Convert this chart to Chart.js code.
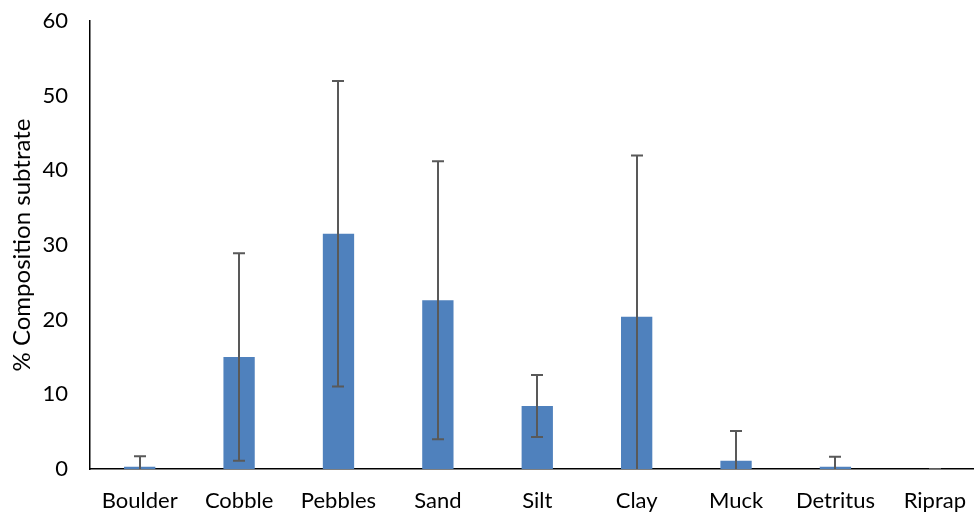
<!DOCTYPE html>
<html>
<head>
<meta charset="utf-8">
<script src="https://cdn.jsdelivr.net/npm/chart.js@4/dist/chart.umd.min.js"></script>
<style>
  html, body { margin: 0; padding: 0; background: #fff; overflow: hidden; }
  #wrap { width: 974px; height: 512px; overflow: hidden; }
</style>
</head>
<body>
<div id="wrap"><canvas id="chart" width="985" height="512"></canvas></div>
<script>
// substrate composition means and error (+/-)
const substrates = ['Boulder', 'Cobble', 'Pebbles', 'Sand', 'Silt', 'Clay', 'Muck', 'Detritus', 'Riprap'];
const meanPct = [0.3, 15.0, 31.5, 22.6, 8.45, 20.4, 1.1, 0.3, 0];
const errPct = [1.4, 13.9, 20.45, 18.6, 4.15, 21.6, 4.0, 1.35, 0];
const yTicks = [0, 10, 20, 30, 40, 50, 60];

const fontFamily = 'Lato, "Open Sans", sans-serif';

// Chart.js has no error bars, so draw them from the scales
const errorBars = {
    id: 'errorBars',
    afterDatasetsDraw(chart) {
        const ctx = chart.ctx;
        const yScale = chart.scales.y;
        const meta = chart.getDatasetMeta(0);
        const area = chart.chartArea;
        ctx.save();
        ctx.beginPath();
        ctx.rect(area.left, area.top - 5, area.right - area.left, area.bottom - area.top + 5);
        ctx.clip();
        ctx.strokeStyle = '#595959';
        ctx.lineWidth = 2;
        meta.data.forEach((bar, i) => {
            const hi = meanPct[i] + errPct[i];
            const lo = meanPct[i] - errPct[i];
            const x = Math.round(bar.x);
            const yHi = yScale.getPixelForValue(hi);
            const yLo = yScale.getPixelForValue(Math.max(lo, 0));
            ctx.beginPath();
            ctx.moveTo(x, yHi);
            ctx.lineTo(x, yLo);
            ctx.moveTo(x - 6, yHi);
            ctx.lineTo(x + 6, yHi);
            if (lo >= 0) {
                ctx.moveTo(x - 6, yLo);
                ctx.lineTo(x + 6, yLo);
            }
            ctx.stroke();
        });
        ctx.restore();
    }
};

new Chart(document.getElementById('chart'), {
    type: 'bar',
    data: {
        labels: substrates,
        datasets: [{
            data: meanPct,
            backgroundColor: '#4F81BD',
            borderWidth: 0,
            barPercentage: 0.315,
            categoryPercentage: 1
        }]
    },
    options: {
        responsive: false,
        animation: false,
        layout: { padding: { top: 21, left: 0, right: 0, bottom: 0 } },
        plugins: {
            legend: { display: false },
            tooltip: { enabled: false }
        },
        scales: {
            x: {
                grid: { display: false, drawTicks: false },
                border: { color: '#000', width: 1.5 },
                ticks: { color: '#000', font: { family: fontFamily, size: 22 }, padding: 19, maxRotation: 0, autoSkip: false },
                afterFit: (scale) => { scale.height = 43; }
            },
            y: {
                min: 0,
                max: 60,
                afterBuildTicks: (scale) => { scale.ticks = yTicks.map(v => ({ value: v })); },
                grid: { display: false, drawTicks: false },
                border: { color: '#000', width: 1.5 },
                ticks: { color: '#000', font: { family: fontFamily, size: 22 }, padding: 22 },
                title: {
                    display: true,
                    text: '% Composition subtrate',
                    color: '#000',
                    font: { family: fontFamily, size: 24 },
                    padding: { top: 8, bottom: 4 }
                },
                afterFit: (scale) => {
                    scale.width = 90;
                    scale.paddingTop = 0;
                    scale.paddingBottom = 0;
                }
            }
        }
    },
    plugins: [errorBars]
});
</script>
</body>
</html>
